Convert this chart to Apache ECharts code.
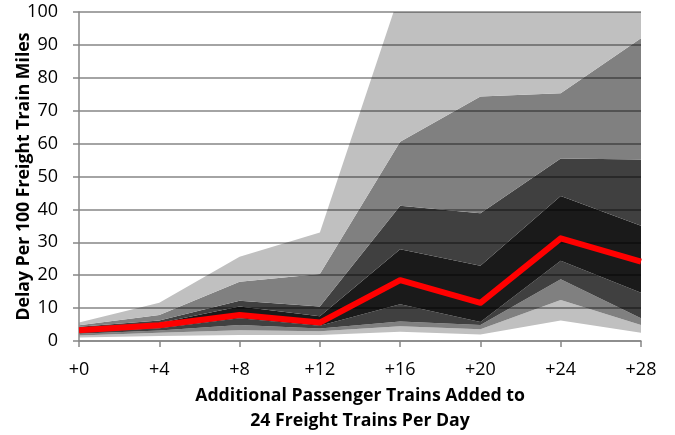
<!DOCTYPE html>
<html>
<head>
<meta charset="utf-8">
<script src="https://cdn.jsdelivr.net/npm/echarts@6/dist/echarts.min.js"></script>
<style>
  html, body { margin: 0; padding: 0; background: #fff; }
  #chart { width: 675px; height: 435px; }
</style>
</head>
<body>
<div id="chart"></div>
<script>
// Additional passenger trains on the x axis
const categories = ['+0', '+4', '+8', '+12', '+16', '+20', '+24', '+28'];
const yTicks = [0, 10, 20, 30, 40, 50, 60, 70, 80, 90, 100];

// Band edges, from the highest outcome down to the lowest (delay per 100 train miles)
const edge1 = [5.6, 11.6, 25.6, 33.0, 106, 110, 110, 110];
const edge2 = [4.8, 7.9, 18.0, 20.4, 60.6, 74.3, 75.3, 92.0];
const edge3 = [4.3, 6.2, 12.2, 10.5, 41.1, 38.8, 55.5, 55.2];
const edge4 = [3.9, 5.5, 10.5, 7.5, 27.9, 22.9, 44.1, 35.0];
const edge5 = [2.7, 3.9, 6.9, 4.6, 11.2, 5.8, 24.4, 14.7];
const edge6 = [2.2, 3.2, 4.9, 3.8, 5.9, 4.9, 18.8, 6.9];
const edge7 = [1.7, 2.5, 3.3, 3.0, 4.5, 3.6, 12.5, 4.9];
const edge8 = [1.1, 1.5, 1.8, 1.8, 2.8, 2.0, 6.2, 2.5];

// Median delay
const median = [3.3, 4.8, 7.9, 5.6, 18.5, 11.6, 31.2, 24.1];

const LIGHT = '#c0c0c0', MID = '#808080', DARK = '#404040', BLACK = '#1a1a1a';

// Each band sits between an upper and a lower edge
const bands = [
  [edge7, edge8, LIGHT],
  [edge6, edge7, MID],
  [edge5, edge6, DARK],
  [edge4, edge5, BLACK],
  [edge3, edge4, DARK],
  [edge2, edge3, MID],
  [edge1, edge2, LIGHT]
];

const series = [{
  type: 'line', stack: 'spread', data: edge8, symbol: 'none',
  lineStyle: { width: 0, opacity: 0 }, silent: true, z: 1
}];
bands.forEach(([hi, lo, color]) => {
  series.push({
    type: 'line', stack: 'spread', symbol: 'none', silent: true, z: 1,
    data: hi.map((v, i) => +(v - lo[i]).toFixed(2)),
    lineStyle: { width: 0, opacity: 0 },
    areaStyle: { color: color, opacity: 1 }
  });
});
series.push({
  type: 'line', data: median, symbol: 'none', z: 6,
  lineStyle: { color: '#ff0000', width: 6, join: 'round', cap: 'butt' }
});

const FONT = '"Open Sans", sans-serif';

const chart = echarts.init(document.getElementById('chart'), null, { renderer: 'canvas' });
chart.setOption({
  animation: false,
  backgroundColor: '#ffffff',
  grid: { left: 79, right: 34, top: 12, bottom: 94, containLabel: false, outerBoundsMode: 'none' },
  xAxis: {
    type: 'category', data: categories, boundaryGap: false, z: 5,
    axisLine: { lineStyle: { color: '#868686', width: 1.5 } },
    axisTick: { show: true, length: 6, lineStyle: { color: '#868686', width: 1.5 } },
    axisLabel: { color: '#000', fontSize: 18, fontFamily: FONT, margin: 20 },
    splitLine: { show: false },
    name: 'Additional Passenger Trains Added to\n24 Freight Trains Per Day',
    nameLocation: 'middle', nameGap: 42, nameMoveOverlap: false,
    nameTextStyle: { color: '#000', fontSize: 17.7, fontWeight: 'bold', fontFamily: FONT, lineHeight: 25 }
  },
  yAxis: {
    type: 'value', min: yTicks[0], max: yTicks[yTicks.length - 1], interval: 10, z: 5,
    axisLine: { show: true, lineStyle: { color: '#868686', width: 1.5 } },
    axisTick: { show: true, length: 6, lineStyle: { color: '#868686', width: 1.5 } },
    axisLabel: { color: '#000', fontSize: 18, fontFamily: FONT, margin: 21 },
    splitLine: { show: true, lineStyle: { color: 'rgba(0,0,0,0.48)', width: 1.5 } },
    name: 'Delay Per 100 Freight Train Miles',
    nameLocation: 'middle', nameGap: 46, nameRotate: 90, nameMoveOverlap: false,
    nameTextStyle: { color: '#000', fontSize: 17.7, fontWeight: 'bold', fontFamily: FONT }
  },
  series: series
});
</script>
</body>
</html>
